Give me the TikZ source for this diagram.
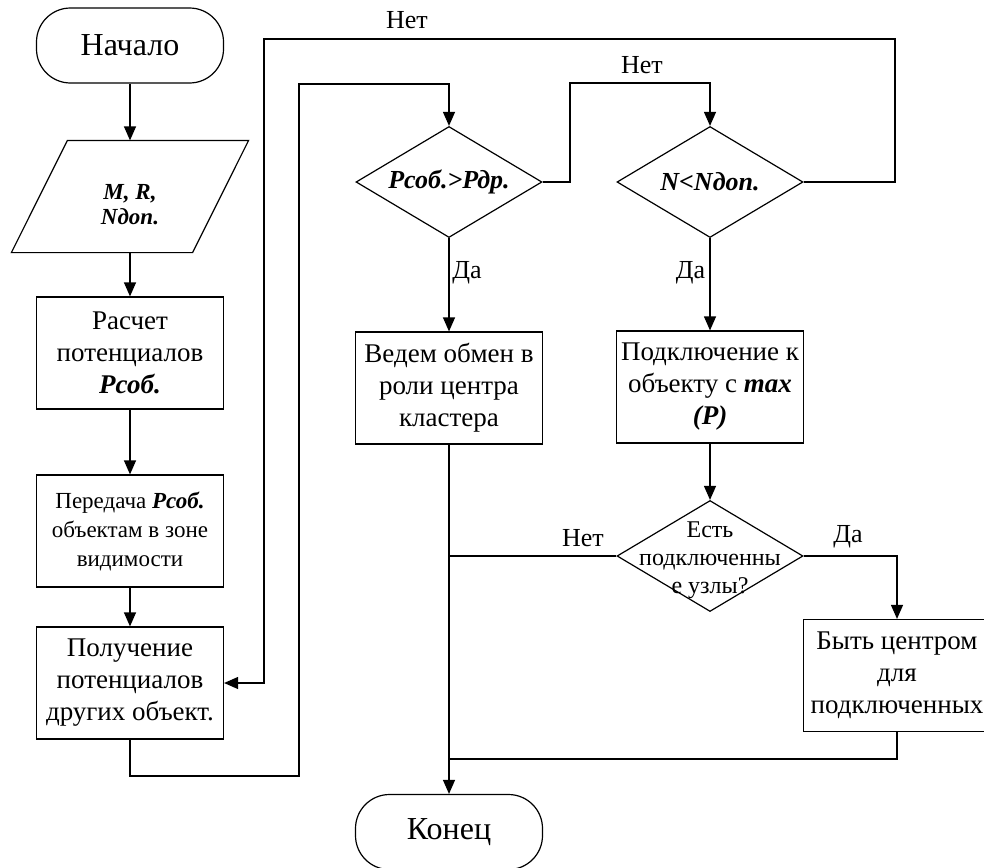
\documentclass[tikz,border=0pt]{standalone}
\usepackage{fontspec}
\setmainfont{Liberation Serif}
\usetikzlibrary{shapes.geometric}
\usetikzlibrary{arrows.meta}

\newcommand{\bi}[1]{\textbf{\textit{#1}}}

\begin{document}
\begin{tikzpicture}[x=0.5pt,y=-0.5pt,line width=0.6pt,
    term/.style={draw,rounded corners=17pt,minimum width=93.5pt,minimum height=37.5pt,font=\fontsize{16}{18}\selectfont},
    io/.style={minimum width=90pt,minimum height=55.5pt,inner sep=0pt},
    proc/.style={draw,minimum width=93.5pt,minimum height=56pt,inner sep=1pt,align=center,font=\fontsize{13.5}{16}\selectfont},
    cond/.style={draw,diamond,minimum width=93pt,minimum height=55.5pt,inner sep=0pt,aspect=1.68,font=\fontsize{13}{15}\selectfont\bfseries\itshape},
    lbl/.style={inner sep=0pt,font=\fontsize{13}{15}\selectfont},
    link/.style={line width=0.6pt},
    arr/.style={link,-{Triangle[length=7pt,width=6pt]}}]
    \useasboundingbox (0,0) rectangle (984,867);

    % Place the nodes
    \node[term] (start) at (130,45.5) {Начало};
    \node[io,label={[lbl,yshift=-4pt,align=center,font=\fontsize{11.5}{12.5}\selectfont\bfseries\itshape]center:{M, R,\\Nдоп.}}] (in) at (130,196.5) {};
    \draw ([xshift=14pt]in.north west) -- ([xshift=14pt]in.north east)
        -- ([xshift=-14pt]in.south east) -- ([xshift=-14pt]in.south west) -- cycle;
    \node[proc] (calc) at (130,353) {Расчет\\потенциалов\\\bi{Рсоб.}};
    \node[proc,font=\fontsize{11.5}{14.5}\selectfont] (send) at (130,531) {Передача \bi{Рсоб.}\\объектам в зоне\\видимости};
    \node[proc] (recv) at (130,683) {Получение\\потенциалов\\других объект.};
    \node[cond] (q1) at (449,182) {Рсоб.>Рдр.};
    \node[cond] (q2) at (710,182) {N<Nдоп.};
    \node[proc] (cluster) at (449,388) {Ведем обмен в\\роли центра\\кластера};
    \node[proc] (connect) at (710,387) {Подключение к\\объекту с \bi{max}\\\bi{(P)}};
    \node[cond,label={[lbl,yshift=-2pt,align=center,font=\fontsize{12}{14}\selectfont]center:{Есть\\подключенны\\е узлы?}}] (q3) at (710,556) {};
    \node[proc] (leader) at (897,675.5) {Быть центром\\для\\подключенных};
    \node[term] (end) at (449,832) {Конец};

    % Labels of the branches
    \node[lbl] (no1) at (407,20) {Нет};
    \node[lbl] (no2) at (642,65) {Нет};
    \node[lbl] (yes1) at (467,273) {Да};
    \node[lbl] (yes2) at (690.5,273) {Да};
    \node[lbl] (no3) at (583,538) {Нет};
    \node[lbl] (yes3) at (848,537) {Да};

    % Bends of the loops
    \coordinate (b1) at (299,776);
    \coordinate (b2) at (299,84);
    \coordinate (b3) at (570,83);
    \coordinate (b4) at (895,39);
    \coordinate (b5) at (264,39);
    \coordinate (b6) at (449,759);

    % Draw the lines
    \draw[arr] (start) -- (in);
    \draw[arr] (in) -- (calc);
    \draw[arr] (calc) -- (send);
    \draw[arr] (send) -- (recv);
    \draw[arr] (recv.south) |- (b1) -- (b2) -| (q1.north);
    \draw[arr] (q1.east) -| (b3) -| (q2.north);
    \draw[arr] (q2.east) -| (b4) -- (b5) |- (recv.east);
    \draw[arr] (q1) -- (cluster);
    \draw[arr] (q2) -- (connect);
    \draw[arr] (connect) -- (q3);
    \draw[arr] (q3.east) -| (leader.north);
    \draw[link] (q3.west) -- (q3.west -| cluster.south);
    \draw[arr] (cluster) -- (end);
    \draw[link] (leader.south) |- (b6);

\end{tikzpicture}
\end{document}
